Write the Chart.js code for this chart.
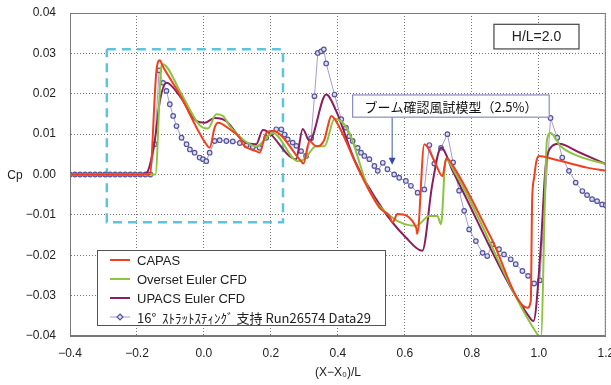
<!DOCTYPE html>
<html>
<head>
<meta charset="utf-8">
<script src="https://cdn.jsdelivr.net/npm/chart.js@4/dist/chart.umd.min.js"></script>
<style>
html, body { margin: 0; padding: 0; background: #fff; }
#wrap { width: 611px; height: 385px; }
</style>
</head>
<body>
<div id="wrap"><canvas id="cpChart" width="611" height="385"></canvas></div>
<script>
// CAPAS
const capasX = [-0.4, -0.162, -0.142, -0.132, -0.123, -0.072, -0.022, 0.007, 0.017, 0.032, 0.042, 0.077, 0.107, 0.116, 0.156, 0.166, 0.186, 0.206, 0.29, 0.297, 0.315, 0.335, 0.36, 0.37, 0.38, 0.405, 0.46, 0.524, 0.554, 0.563, 0.578, 0.634, 0.637, 0.658, 0.69, 0.712, 0.724, 0.747, 0.857, 0.966, 0.976, 0.98, 0.986, 0.992, 1.0, 1.045, 1.144, 1.2];
const capasY = [0, 0, 0.0256, 0.0283, 0.0268, 0.0198, 0.0116, 0.0075, 0.0066, 0.0116, 0.0128, 0.0112, 0.0091, 0.0075, 0.0058, 0.0054, 0.0103, 0.0108, 0.0033, 0.0027, 0.0083, 0.007, 0.0087, 0.012, 0.0145, 0.0116, 0.0015, -0.0082, -0.0103, -0.0119, -0.0098, -0.0132, -0.0147, 0.0075, 0.003, -0.0004, 0.004, 0.0017, -0.0156, -0.033, -0.0313, -0.0066, -0.0008, 0.003, 0.0046, 0.0038, 0.0017, 0.0009];

// Overset Euler CFD
const oversetX = [-0.4, -0.145, -0.127, -0.123, -0.072, -0.022, -0.003, 0.012, 0.037, 0.057, 0.077, 0.116, 0.156, 0.206, 0.28, 0.3, 0.335, 0.36, 0.39, 0.43, 0.494, 0.563, 0.634, 0.673, 0.697, 0.708, 0.722, 0.747, 0.995, 1.006, 1.024, 1.035, 1.065, 1.12, 1.2];
const oversetY = [0, 0, 0.0268, 0.0273, 0.0207, 0.0132, 0.0116, 0.0114, 0.0149, 0.0145, 0.012, 0.0087, 0.007, 0.0103, 0.0033, 0.0038, 0.007, 0.007, 0.0138, 0.011, -0.004, -0.0107, -0.0127, -0.0103, -0.0103, -0.0123, 0.0038, 0.0009, -0.0395, -0.0404, 0.0083, 0.0103, 0.007, 0.0045, 0.0026];

// UPACS Euler CFD
const upacsX = [-0.4, -0.19, -0.171, -0.147, -0.132, -0.112, -0.072, -0.022, 0.002, 0.032, 0.067, 0.107, 0.116, 0.156, 0.176, 0.275, 0.295, 0.315, 0.365, 0.395, 0.45, 0.533, 0.603, 0.652, 0.682, 0.708, 0.745, 0.976, 0.984, 1.005, 1.02, 1.035, 1.06, 1.12, 1.2];
const upacsY = [0, 0, 0.0004, 0.0083, 0.018, 0.0227, 0.0194, 0.0132, 0.0128, 0.014, 0.0132, 0.0091, 0.0083, 0.0075, 0.011, 0.0038, 0.0113, 0.0083, 0.0198, 0.0157, 0.0035, -0.0085, -0.0156, -0.0189, -0.0024, 0.0066, 0.0005, -0.0358, -0.0363, -0.019, 0.0017, 0.0066, 0.0076, 0.0055, 0.0026];

// 風試 (16° strut sting)
const windX = [-0.4, -0.385, -0.37, -0.355, -0.34, -0.325, -0.31, -0.295, -0.28, -0.265, -0.25, -0.235, -0.22, -0.205, -0.19, -0.175, -0.16,
  -0.147, -0.134, -0.122, -0.112, -0.102, -0.092, -0.082, -0.067, -0.052, -0.042, -0.028, -0.013, -0.003, 0.007, 0.017, 0.032, 0.047,
  0.067, 0.086, 0.107, 0.127, 0.146, 0.166, 0.186, 0.201, 0.216, 0.231, 0.241, 0.25, 0.265, 0.276, 0.29, 0.305, 0.32, 0.33, 0.34, 0.35,
  0.358, 0.365, 0.39, 0.41, 0.424, 0.434, 0.444, 0.459, 0.469, 0.479, 0.494, 0.509, 0.519, 0.534, 0.548, 0.568, 0.583, 0.603, 0.618,
  0.638, 0.658, 0.673, 0.688, 0.708, 0.727, 0.744, 0.762, 0.777, 0.792, 0.812, 0.832, 0.846, 0.861, 0.881, 0.896, 0.916, 0.931, 0.951,
  0.968, 0.986, 1.003, 1.035, 1.055, 1.07, 1.09, 1.11, 1.13, 1.144, 1.159, 1.174, 1.189, 1.2];
const windY = [0, 0, 0, 0, 0, 0, 0, 0, 0, 0, 0, 0, 0, 0, 0, 0, 0,
  0.0075, 0.0258, 0.0227, 0.0207, 0.0174, 0.0145, 0.012, 0.0091, 0.0075, 0.0062, 0.0054, 0.0042, 0.0038, 0.0033, 0.0054, 0.0083, 0.0085,
  0.0083, 0.0082, 0.0078, 0.0072, 0.0068, 0.0066, 0.0091, 0.0103, 0.0112, 0.0112, 0.0099, 0.0087, 0.0079, 0.0071, 0.0058, 0.0046, 0.009, 0.0194, 0.0301, 0.0305,
  0.031, 0.0275, 0.0198, 0.0137, 0.0116, 0.0095, 0.0083, 0.0066, 0.0054, 0.0046, 0.0038, 0.0021, 0.0009, 0.0029, 0.0013, 0.0, -0.0008, -0.0016, -0.0028,
  -0.0045, -0.0037, 0.0073, 0.0027, 0.0066, 0.01, 0.003, -0.004, -0.009, -0.0136, -0.0165, -0.0194, -0.0202, -0.0173, -0.0185, -0.0198, -0.021, -0.0222, -0.0239,
  -0.0251, -0.027, -0.0262, 0.014, 0.0091, 0.0042, 0.0009, -0.002, -0.0041, -0.0051, -0.0061, -0.0066, -0.0074, -0.0076];

// 水色の破線枠
const frameX = [-0.29, 0.236, 0.236, -0.29, -0.29];
const frameY = [0.031, 0.031, -0.0118, -0.0118, 0.031];

const seriesNames = ['CAPAS', 'Overset Euler CFD', 'UPACS Euler CFD', '16°  ｽﾄﾗｯﾄｽﾃｨﾝｸﾞ 支持 Run26574 Data29'];

const FONT = "'Liberation Sans', Arial, 'Noto Sans CJK JP', sans-serif";
const JFONT = "'Noto Sans CJK JP', 'Liberation Sans', sans-serif";

function pts(xs, ys) {
  return xs.map((x, i) => ({ x: x, y: ys[i] }));
}

function fmt(v, d) {
  if (Math.abs(v) < 1e-9) v = 0;
  return v.toFixed(d).replace('-', '\u2212');
}

// 凡例・注記・枠
const overlayPlugin = {
  id: 'overlay',
  afterDatasetsDraw(chart) {
    const ctx = chart.ctx;
    const a = chart.chartArea;
    const xs = chart.scales.x, ys = chart.scales.y;
    ctx.save();

    // plot frame
    ctx.strokeStyle = '#777';
    ctx.lineWidth = 1;
    ctx.strokeRect(a.left + 0.5, a.top + 0.5, a.right - a.left - 1, a.bottom - a.top - 1);

    // H/L box
    let bl = xs.getPixelForValue(0.866), br = xs.getPixelForValue(1.12);
    let bt = ys.getPixelForValue(0.0372), bb = ys.getPixelForValue(0.0311);
    ctx.fillStyle = '#fff';
    ctx.fillRect(bl, bt, br - bl, bb - bt);
    ctx.strokeStyle = '#444';
    ctx.lineWidth = 1.2;
    ctx.strokeRect(bl, bt, br - bl, bb - bt);
    ctx.fillStyle = '#222';
    ctx.font = '14px ' + FONT;
    ctx.textAlign = 'center';
    ctx.textBaseline = 'middle';
    ctx.fillText('H/L=2.0', (bl + br) / 2, (bt + bb) / 2 + 1);

    // ブーム確認風試模型 box + arrow
    bl = xs.getPixelForValue(0.444); br = xs.getPixelForValue(1.031);
    bt = ys.getPixelForValue(0.0197); bb = ys.getPixelForValue(0.0142);
    const ax = xs.getPixelForValue(0.562), ay = ys.getPixelForValue(0.0024);
    ctx.strokeStyle = '#3b5ba8';
    ctx.lineWidth = 1;
    ctx.beginPath();
    ctx.moveTo(ax, bb);
    ctx.lineTo(ax, ay - 6);
    ctx.stroke();
    ctx.fillStyle = '#2f4fa8';
    ctx.beginPath();
    ctx.moveTo(ax - 3.5, ay - 7);
    ctx.lineTo(ax + 3.5, ay - 7);
    ctx.lineTo(ax, ay);
    ctx.closePath();
    ctx.fill();
    ctx.fillStyle = '#fff';
    ctx.fillRect(bl, bt, br - bl, bb - bt);
    ctx.strokeStyle = '#8a8ac4';
    ctx.lineWidth = 1.2;
    ctx.strokeRect(bl, bt, br - bl, bb - bt);
    ctx.fillStyle = '#111';
    ctx.font = '13px ' + JFONT;
    ctx.fillText('ブーム確認風試模型（2.5%）', (bl + br) / 2, (bt + bb) / 2 + 1);

    // legend
    const lx = a.left + 27, ly = a.top + 237, lw = 288, lh = 75;
    ctx.fillStyle = '#fff';
    ctx.fillRect(lx, ly, lw, lh);
    ctx.strokeStyle = '#555';
    ctx.lineWidth = 1;
    ctx.strokeRect(lx + 0.5, ly + 0.5, lw, lh);
    ctx.textAlign = 'left';
    chart.data.datasets.slice(0, 4).forEach((ds, i) => {
      const ry = ly + 10 + i * 19;
      ctx.strokeStyle = ds.borderColor;
      ctx.lineWidth = i === 3 ? 1 : 2;
      ctx.beginPath();
      ctx.moveTo(lx + 13, ry);
      ctx.lineTo(lx + 33, ry);
      ctx.stroke();
      if (i === 3) {
        ctx.fillStyle = ds.pointBackgroundColor;
        ctx.strokeStyle = ds.pointBorderColor;
        ctx.lineWidth = 1.2;
        ctx.beginPath();
        ctx.moveTo(lx + 23, ry - 3);
        ctx.lineTo(lx + 26, ry);
        ctx.lineTo(lx + 23, ry + 3);
        ctx.lineTo(lx + 20, ry);
        ctx.closePath();
        ctx.fill();
        ctx.stroke();
      }
      ctx.fillStyle = '#222';
      ctx.font = (i === 3 ? '13px ' + JFONT : '13px ' + FONT);
      ctx.fillText(ds.label, lx + 40, ry + 1);
    });

    // axis titles
    ctx.fillStyle = '#222';
    ctx.font = '12px ' + FONT;
    ctx.textAlign = 'center';
    ctx.fillText('Cp', 15, ys.getPixelForValue(0) + 1);
    ctx.fillText('(X\u2212X\u2080)/L', (a.left + a.right) / 2, 373);
    ctx.restore();
  }
};

const ctx = document.getElementById('cpChart').getContext('2d');
const cpChart = new Chart(ctx, {
  type: 'scatter',
  data: {
    datasets: [
      {
        label: seriesNames[0],
        data: pts(capasX, capasY),
        showLine: true,
        borderColor: '#f0401e',
        borderWidth: 2,
        pointRadius: 0,
        cubicInterpolationMode: 'monotone'
      },
      {
        label: seriesNames[1],
        data: pts(oversetX, oversetY),
        showLine: true,
        borderColor: '#8cc43c',
        borderWidth: 2,
        pointRadius: 0,
        cubicInterpolationMode: 'monotone'
      },
      {
        label: seriesNames[2],
        data: pts(upacsX, upacsY),
        showLine: true,
        borderColor: '#8a1e5e',
        borderWidth: 2,
        pointRadius: 0,
        cubicInterpolationMode: 'monotone'
      },
      {
        label: seriesNames[3],
        data: pts(windX, windY),
        showLine: true,
        borderColor: '#a89ad2',
        borderWidth: 1,
        pointRadius: 2.3,
        pointBorderWidth: 1.2,
        pointBorderColor: '#55559e',
        pointBackgroundColor: '#dcdcf2',
        tension: 0
      },
      {
        label: 'frame',
        data: pts(frameX, frameY),
        showLine: true,
        borderColor: '#5cc4dc',
        borderWidth: 2.5,
        borderDash: [9, 6],
        pointRadius: 0,
        tension: 0,
        order: 10
      }
    ]
  },
  options: {
    responsive: false,
    animation: false,
    layout: { padding: { left: 0, right: 4, top: 13, bottom: 0 } },
    plugins: {
      legend: { display: false },
      tooltip: { enabled: false }
    },
    scales: {
      x: {
        type: 'linear',
        min: -0.4,
        max: 1.2,
        ticks: {
          stepSize: 0.2,
          padding: 10,
          color: '#222',
          font: { family: FONT, size: 12 },
          callback: v => fmt(v, 1)
        },
        grid: { color: '#777', lineWidth: 1, drawTicks: false },
        border: { color: '#777', dash: [1, 2] },
        afterFit: s => { s.height = 49; s.paddingLeft = 0; s.paddingRight = 0; }
      },
      y: {
        min: -0.04,
        max: 0.04,
        ticks: {
          stepSize: 0.01,
          padding: 14,
          color: '#222',
          font: { family: FONT, size: 12 },
          callback: v => fmt(v, 2)
        },
        grid: { color: '#777', lineWidth: 1, drawTicks: false },
        border: { color: '#777', dash: [1, 2] },
        afterFit: s => { s.width = 70; s.paddingTop = 0; s.paddingBottom = 0; }
      }
    }
  },
  plugins: [overlayPlugin]
});
</script>
</body>
</html>
